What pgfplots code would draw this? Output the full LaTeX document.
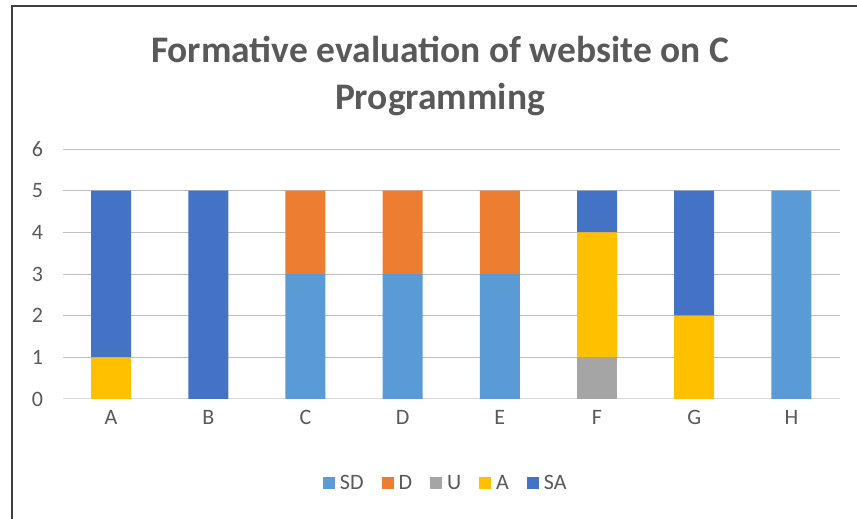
\documentclass[border=0pt]{standalone}
\usepackage{pgfplots}
\pgfplotsset{compat=1.18}
\usepackage{fontspec}
\setmainfont{Carlito}
\definecolor{cSD}{HTML}{5B9BD5}
\definecolor{cD}{HTML}{ED7D31}
\definecolor{cU}{HTML}{A5A5A5}
\definecolor{cA}{HTML}{FFC000}
\definecolor{cSA}{HTML}{4472C4}
\definecolor{txt}{HTML}{595959}
\definecolor{grid}{HTML}{D9D9D9}
\definecolor{frame}{HTML}{404040}
\begin{document}
\begin{tikzpicture}[x=1pt,y=1pt]
\useasboundingbox (0,0) rectangle (857,519);
\draw[line width=2pt, frame] (12,0) -- (12,513) -- (858,513);
\node[font=\fontsize{37.5}{46}\bfseries, text=txt, anchor=base] at (440,519-63) {Formative evaluation of website on C};
\node[font=\fontsize{37.5}{46}\bfseries, text=txt, anchor=base] at (440,519-110) {Programming};
\begin{axis}[
  at={(62.5pt,120pt)}, anchor=south west,
  scale only axis, width=777.5pt, height=250pt,
  ybar stacked, bar width=40pt,
  xmin=-0.5, xmax=7.5, ymin=0, ymax=6,
  xtick={0,1,2,3,4,5,6,7},
  xticklabels={A,B,C,D,E,F,G,H},
  ytick={0,1,2,3,4,5,6},
  axis line style={draw=none},
  axis x line*=bottom,
  x axis line style={draw=grid, line width=1pt},
  major tick length=0pt,
  tick style={draw=none},
  xmajorgrids=false,
  ymajorgrids, grid style={grid, line width=1pt},
  tick label style={font=\fontsize{22}{26}\selectfont, text=txt},
  /pgf/number format/assume math mode=true,
  yticklabel style={xshift=-16pt},
  xticklabel style={yshift=-8pt},
  legend columns=-1,
  legend style={draw=none, at={(0.493,-0.336)}, anchor=center,
    font=\fontsize{22}{26}\selectfont, text=txt,
    /tikz/every even column/.append style={column sep=16pt}},
  legend image code/.code={\fill[#1] (0pt,-6pt) rectangle (12pt,6pt); \path (0pt,0pt) -- (15pt,0pt);},
]
\addplot+[fill=cSD, draw=none] coordinates {(0,0) (1,0) (2,3) (3,3) (4,3) (5,0) (6,0) (7,5)};
\addplot+[fill=cD, draw=none] coordinates {(0,0) (1,0) (2,2) (3,2) (4,2) (5,0) (6,0) (7,0)};
\addplot+[fill=cU, draw=none] coordinates {(0,0) (1,0) (2,0) (3,0) (4,0) (5,1) (6,0) (7,0)};
\addplot+[fill=cA, draw=none] coordinates {(0,1) (1,0) (2,0) (3,0) (4,0) (5,3) (6,2) (7,0)};
\addplot+[fill=cSA, draw=none] coordinates {(0,4) (1,5) (2,0) (3,0) (4,0) (5,1) (6,3) (7,0)};
\legend{SD,D,U,A,SA}
\end{axis}
\end{tikzpicture}
\end{document}
